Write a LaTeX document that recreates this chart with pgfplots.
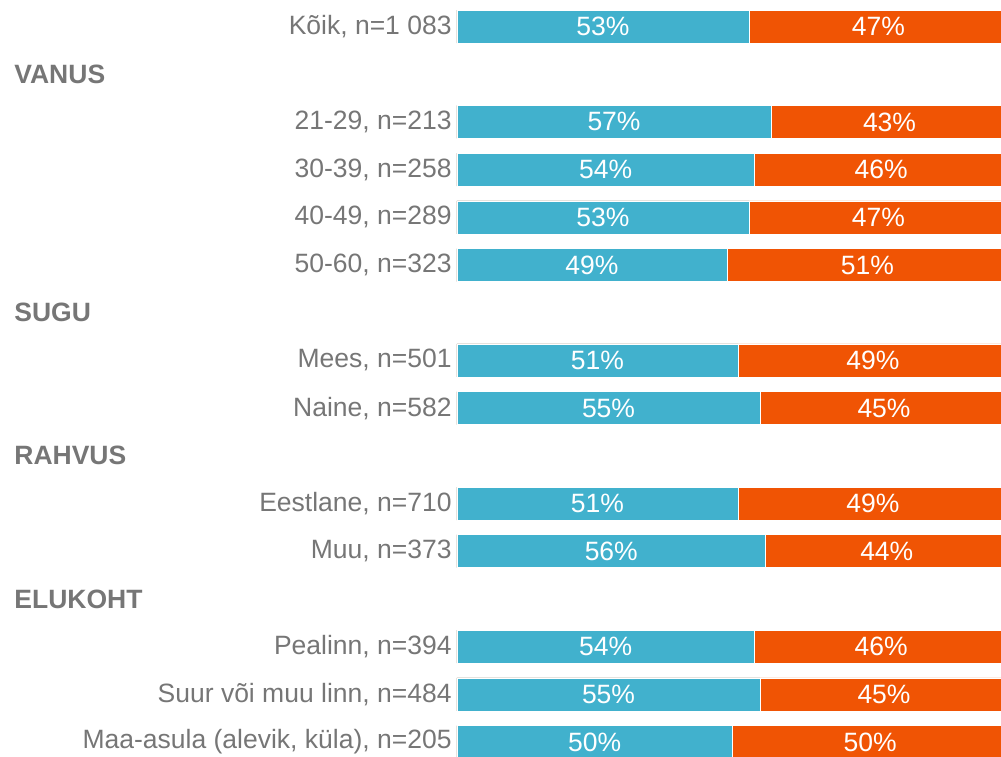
\documentclass[border=0pt]{standalone}
\usepackage{pgfplots}
\pgfplotsset{compat=1.18}
\usepackage{pgfplotstable}
\usepackage{fontspec}
\setmainfont{Liberation Sans}
\definecolor{cblue}{RGB}{65,177,205}
\definecolor{corange}{RGB}{240,84,4}
\definecolor{tgray}{RGB}{118,118,118}
\pgfplotstableread{
row a b
0 53 47
2 57 43
3 54 46
4 53 47
5 49 51
7 51 49
8 55 45
10 51 49
11 56 44
13 54 46
14 55 45
15 50 50
}\data
\newcommand{\fs}{\fontsize{13.25}{15}\selectfont}
\begin{document}
\begin{tikzpicture}
\begin{axis}[
  scale only axis,
  width=272pt, height=378pt,
  xmin=0, xmax=98.73,
  ymin=-0.5556, ymax=15.2935,
  y dir=reverse,
  axis line style={draw=none},
  tick style={draw=none},
  xtick=\empty,
  ytick={0,2,3,4,5,7,8,10,11,13,14,15},
  yticklabels={{Kõik, n=1 083},{21-29, n=213},{30-39, n=258},{40-49, n=289},{50-60, n=323},{Mees, n=501},{Naine, n=582},{Eestlane, n=710},{Muu, n=373},{Pealinn, n=394},{Suur või muu linn, n=484},{Maa-asula (alevik, küla), n=205}},
  yticklabel style={font=\fs, text=tgray, inner sep=0pt, xshift=-2.5pt},
  bar width=16.5pt,
]
\addplot[xbar, fill=corange, draw=white, line width=0.25pt] table[x expr=100, y=row] {\data};
\addplot[xbar, fill=cblue, draw=white, line width=0.25pt] table[x=a, y=row] {\data};
\addplot[draw=none, forget plot, nodes near coords, point meta=explicit symbolic,
  nodes near coords={\pgfplotspointmeta\%},
  every node near coord/.style={anchor=center, text=white, font=\fs}]
  table[x expr=\thisrow{a}/2, y=row, meta=a] {\data};
\addplot[draw=none, forget plot, nodes near coords, point meta=explicit symbolic,
  nodes near coords={\pgfplotspointmeta\%},
  every node near coord/.style={anchor=center, text=white, font=\fs}]
  table[x expr=(\thisrow{a}+100)/2, y=row, meta=b] {\data};
\coordinate (H1) at (axis cs:0,1);
\coordinate (H2) at (axis cs:0,6);
\coordinate (H3) at (axis cs:0,9);
\coordinate (H4) at (axis cs:0,12);
\coordinate (BL) at (rel axis cs:0,0);
\coordinate (TR) at (rel axis cs:1,1);
\end{axis}
\tikzset{hdr/.style={anchor=west, inner sep=0pt, font=\fs\bfseries, text=tgray, xshift=-221.5pt}}
\node[hdr] at (H1) {VANUS};
\node[hdr] at (H2) {SUGU};
\node[hdr] at (H3) {RAHVUS};
\node[hdr] at (H4) {ELUKOHT};
\pgfresetboundingbox
\path[use as bounding box] (BL) ++(-228.5pt,0) rectangle (TR);
\end{tikzpicture}
\end{document}
